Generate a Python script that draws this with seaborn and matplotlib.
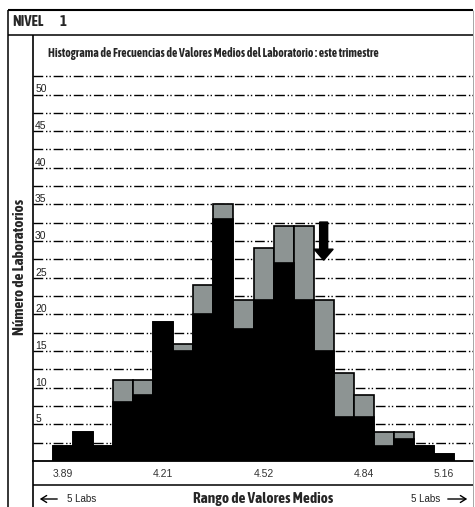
import numpy as np
import pandas as pd
import matplotlib
matplotlib.use("Agg")
import matplotlib.pyplot as plt
import matplotlib.patches as mpatches
from matplotlib import font_manager
import seaborn as sns
from matplotlib.lines import Line2D

# ---- data ----
bins = list(range(1, 21))
total_labs = [2, 4, 2, 11, 11, 19, 16, 24, 35, 22, 29, 32, 32, 22, 12, 9, 4, 4, 2, 1]
black_labs = [2, 4, 2, 8, 9, 19, 15, 20, 33, 18, 22, 27, 22, 15, 6, 6, 2, 3, 2, 1]
tick_bins = [1, 6, 11, 16, 20]
tick_labels = ["3.89", "4.21", "4.52", "4.84", "5.16"]
grid_values = [2.5 * k for k in range(1, 22)]
arrow_bin = 14
arrow_top = 32.6
arrow_tip = 27.4

header_text = "NIVEL"
header_num = "1"
title_text = "Histograma de Frecuencias de Valores Medios del Laboratorio : este trimestre"
ylabel_text = "Número de Laboratorios"
xlabel_text = "Rango de Valores Medios"
labs_text = "5 Labs"

sns.set_style("white")
REG = ["Liberation Sans", "DejaVu Sans"]
plt.rcParams["font.family"] = REG

# look for a condensed / narrow face with a bold weight
narrow_bold = None
cands = {}
for f in font_manager.fontManager.ttflist:
    n = f.name.lower()
    if ("narrow" in n or "condensed" in n) and "mono" not in n and "light" not in n:
        w = f.weight if isinstance(f.weight, int) else (700 if "bold" in str(f.weight) else 400)
        cands.setdefault(f.name, set()).add(w)
for name, ws in cands.items():
    if any(w >= 600 for w in ws):
        narrow_bold = name
        break
NARROW = [narrow_bold, "Liberation Sans", "DejaVu Sans"] if narrow_bold else ["Liberation Sans", "DejaVu Sans"]

W, H = 475, 507
fig = plt.figure(figsize=(W / 100, H / 100), dpi=100)
renderer = fig.canvas.get_renderer()

def fx(px):
    return px / W

def fy(py):
    return 1 - py / H

def fit_text(t, target_px, vertical=False, max_size=None):
    ext = t.get_window_extent(renderer)
    size_now = ext.height if vertical else ext.width
    fs = t.get_fontsize() * target_px / size_now
    if max_size is not None:
        fs = min(fs, max_size)
    t.set_fontsize(fs)

# axes: from x=33 to 473 px, y=461 (zero) to 35 px
ax_left, ax_right, ax_bottom, ax_top = 33, 473, 461, 35
ax = fig.add_axes([fx(ax_left), fy(ax_bottom), (ax_right - ax_left) / W, (ax_bottom - ax_top) / H])
px_per_unit = 7.33
ax.set_ylim(0, (ax_bottom - ax_top) / px_per_unit)

df = pd.DataFrame({"bin": bins, "total": total_labs, "black": black_labs})
gray = "#8d9493"
sns.barplot(data=df, x="bin", y="total", color=gray, width=1.0, edgecolor="black",
            linewidth=1.2, saturation=1, ax=ax, zorder=3)
sns.barplot(data=df, x="bin", y="black", color="black", width=1.0, edgecolor="black",
            linewidth=1.2, saturation=1, ax=ax, zorder=4)

ax.set_xlim(-1.5, 20.45)
ax.set_xlabel("")
ax.set_ylabel("")

# grid lines
ax.set_yticks(grid_values)
ax.set_yticklabels([str(int(v)) if v % 5 == 0 else "" for v in grid_values])
ax.grid(axis="y", color="black", linewidth=1.0, linestyle=(0, (7, 2, 1, 1.5, 1, 2)))
ax.grid(axis="x", visible=False)
ax.set_axisbelow(True)
ax.tick_params(axis="y", length=0, pad=-1.5, labelsize=7.5, labelcolor="#222222")
for lbl in ax.get_yticklabels():
    lbl.set_horizontalalignment("left")
    lbl.set_verticalalignment("bottom")

ax.set_xticks([b - 1 for b in tick_bins])
ax.set_xticklabels(tick_labels)
ax.tick_params(axis="x", length=0, pad=6, labelsize=7.5, labelcolor="#333333")

for s in ["top", "right", "left"]:
    ax.spines[s].set_visible(False)
ax.spines["bottom"].set_color("black")
ax.spines["bottom"].set_linewidth(1.3)
ax.spines["bottom"].set_zorder(5)

# down arrow
ax.arrow(arrow_bin - 1, arrow_top, 0, arrow_tip - arrow_top, width=0.4, head_width=0.95,
         head_length=1.5, length_includes_head=True, color="black", zorder=6)

# frame lines
def fline(x0, y0, x1, y1, lw=1.0, color="black"):
    fig.add_artist(Line2D([fx(x0), fx(x1)], [fy(y0), fy(y1)], lw=lw, color=color,
                          solid_capstyle="butt"))

fline(8, 10, 473, 10, lw=1.5)
fline(8, 10, 8, 507, lw=1.1)
fline(473, 10, 473, 507, lw=0.6, color="#999999")
fline(8, 35, 473, 35, lw=1.1)
fline(33, 35, 33, 507, lw=1.2)
fline(33, 485, 473, 485, lw=1.1)

# texts
t = fig.text(fx(12), fy(22), header_text, family=NARROW, weight="bold", fontsize=10.5,
             va="center", ha="left")
fit_text(t, 35, max_size=10.5)
fig.text(fx(60), fy(22), header_num, family=NARROW, weight="bold", fontsize=10.5,
         va="center", ha="left")
t = fig.text(fx(48), fy(53), title_text, family=NARROW, weight="bold", fontsize=8,
             va="center", ha="left")
fit_text(t, 364, max_size=8.5)
t = fig.text(fx(20), fy(267), ylabel_text, family=NARROW, weight="bold", fontsize=10,
             rotation=90, va="center", ha="center")
fit_text(t, 155, vertical=True, max_size=11)
t = fig.text(fx(263), fy(499), xlabel_text, family=NARROW, weight="bold", fontsize=10.5,
             va="center", ha="center")
fit_text(t, 144, max_size=11)
fig.text(fx(67), fy(499), labs_text, fontsize=7, va="center", ha="left", color="#222222")
fig.text(fx(440), fy(499), labs_text, fontsize=7, va="center", ha="right", color="#222222")
fig.add_artist(mpatches.FancyArrowPatch((fx(60), fy(499)), (fx(37), fy(499)),
               transform=fig.transFigure, arrowstyle="->,head_length=4,head_width=2.5",
               lw=1.0, color="black"))
fig.add_artist(mpatches.FancyArrowPatch((fx(445), fy(499)), (fx(470), fy(499)),
               transform=fig.transFigure, arrowstyle="->,head_length=4,head_width=2.5",
               lw=1.0, color="black"))

fig.savefig("out.png", dpi=100)
